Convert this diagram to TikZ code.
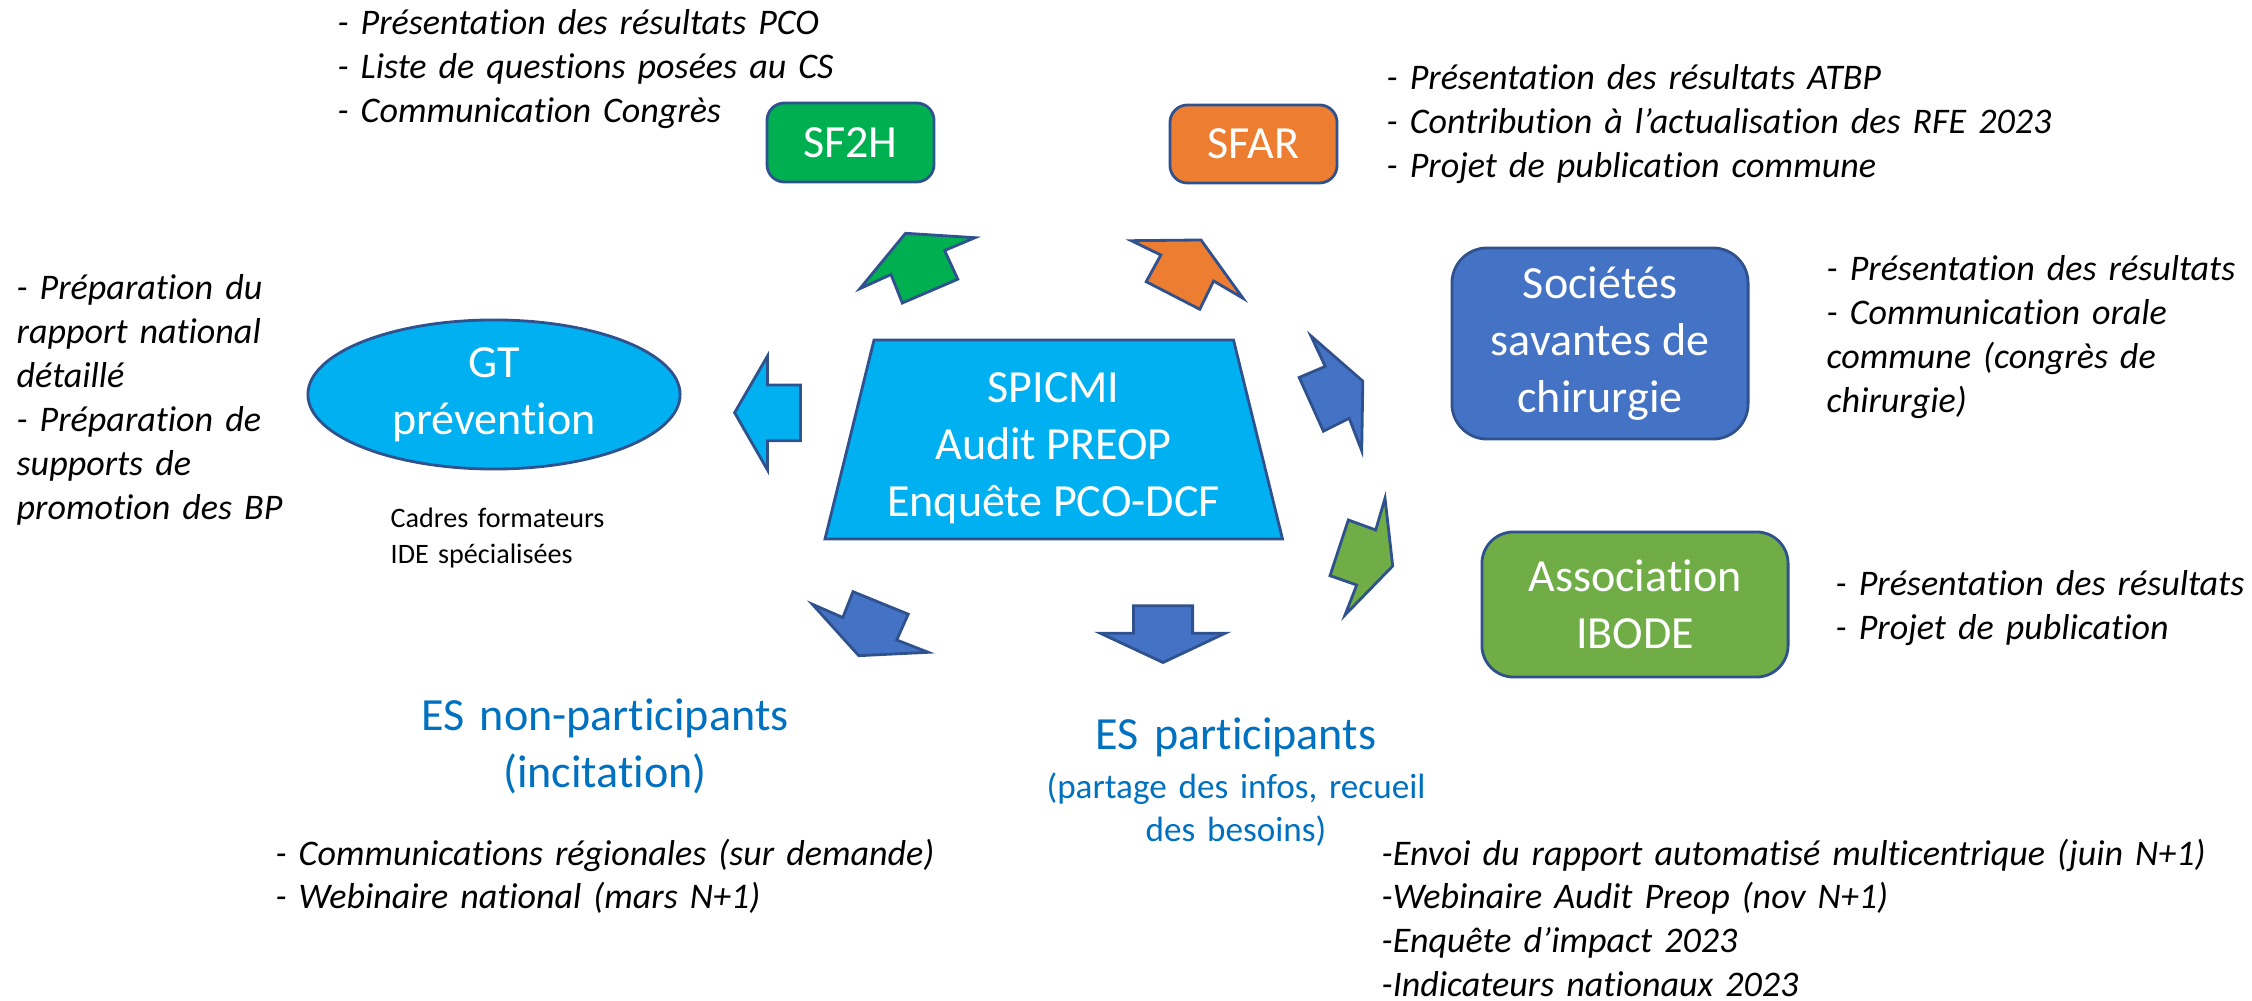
\documentclass[tikz,border=0pt]{standalone}
\usepackage{fontspec}
\setmainfont{Carlito}[Ligatures=NoCommon]
\usepackage{tikz}
\usetikzlibrary{shapes.geometric}
\usetikzlibrary{positioning}

\definecolor{cyanbox}{HTML}{00B0F0}
\definecolor{greenbox}{HTML}{00B050}
\definecolor{orangebox}{HTML}{ED7D31}
\definecolor{bluebox}{HTML}{4472C4}
\definecolor{olivebox}{HTML}{70AD47}
\definecolor{edge}{HTML}{2F528F}
\definecolor{estext}{HTML}{0070C0}

\begin{document}
\begin{tikzpicture}[x=0.01cm, y=-0.01cm,
    outl/.style={draw=edge, line width=0.8pt},
    box/.style={outl, rounded corners=#1, text=white, align=center, inner sep=0pt,
        font=\fontsize{13.1}{16.2}\selectfont},
    box/.default=4pt,
    bullets/.style={anchor=base west, align=left, text width=9.5cm, inner sep=0pt,
        font=\fontsize{10.25}{12.5}\selectfont\itshape},
    estitle/.style={anchor=base, align=center, text width=5cm, inner sep=0pt,
        text=estext, font=\fontsize{13.1}{16.2}\selectfont}
  ]
    \useasboundingbox (0,0) rectangle (2252,1001);

    % Central audit
    \draw [outl, fill=cyanbox] (874,340) -- (1233.5,340) -- (1282.5,539) -- (825,539) -- cycle;
    \node [text=white, align=center, font=\fontsize{13.1}{16.2}\selectfont] (spicmi)
        at (1053.5,448) {SPICMI\\Audit PREOP\\Enquête PCO-DCF};

    % Partners
    \node [box=5pt, fill=greenbox, minimum width=1.67cm, minimum height=0.79cm] (sfh) at (850.5,142.5) {SF2H};
    \node [box=5pt, fill=orangebox, minimum width=1.67cm, minimum height=0.78cm] (sfar) at (1253.5,144) {SFAR};
    \node [box=10pt, fill=bluebox, minimum width=2.96cm, minimum height=1.91cm] (soc) at (1600,343.5)
        {Sociétés\\savantes de\\chirurgie};
    \node [box=9pt, fill=olivebox, minimum width=3.06cm, minimum height=1.45cm] (ibode) at (1635,604.5)
        {Association\\IBODE};
    \node [ellipse, outl, fill=cyanbox, text=white, align=center, inner sep=0pt,
        minimum width=3.72cm, minimum height=1.49cm, font=\fontsize{13.1}{16.2}\selectfont] (gt)
        at (494,394.5) {GT\\prévention};

    % Arrows
    \draw [outl, fill=greenbox] (905.5,233.3) -- (975,237.7) -- (944.6,250.5) -- (957.8,279.2)
        -- (902.3,303) -- (891,274.5) -- (860,288.6) -- cycle;
    \draw [outl, fill=orangebox] (1131.3,240.7) -- (1201,240) -- (1243,298.3) -- (1213.6,281)
        -- (1199.8,309.3) -- (1146.2,281.7) -- (1160.8,255) -- cycle;
    \draw [outl, fill=bluebox] (1311,336) -- (1362.8,381.2) -- (1361.7,450.7) -- (1349.2,418.3)
        -- (1323.4,431.2) -- (1299.2,377.5) -- (1325.2,366.4) -- cycle;
    \draw [outl, fill=olivebox] (1385,498.3) -- (1392.7,566) -- (1345,615) -- (1356.7,585)
        -- (1330,575.7) -- (1348.3,520) -- (1375.7,530) -- cycle;
    \draw [outl, fill=cyanbox] (734.6,412.7) -- (767.5,356) -- (767.5,385) -- (800.4,385)
        -- (800.4,440.7) -- (767.5,440.7) -- (767.5,470) -- cycle;
    \draw [outl, fill=bluebox] (812.4,604.3) -- (842.8,617.5) -- (853,591.7) -- (908.2,614.2)
        -- (896.7,640) -- (928.2,652.3) -- (858.8,655.7) -- cycle;
    \draw [outl, fill=bluebox] (1133.5,605.7) -- (1192.6,605.7) -- (1192.6,633.3) -- (1225,633.3)
        -- (1163,662.5) -- (1100.5,633.3) -- (1133.5,633.3) -- cycle;

    % Establishments
    \node [estitle] (esnon) at (605,731) {ES non-participants\\(incitation)};
    \node [estitle] (espart) at (1236,750) {ES participants};
    \node [estitle, font=\fontsize{10}{12.5}\selectfont] (espartsub) at (1236,798)
        {(partage des infos, recueil\\des besoins)};

    % Actions
    \node [bullets] (sfhlist) at (337,35)
        {- Présentation des résultats PCO\\- Liste de questions posées au CS\\- Communication Congrès};
    \node [bullets] (sfarlist) at (1386,90)
        {- Présentation des résultats ATBP\\- Contribution à l’actualisation des RFE 2023\\- Projet de publication commune};
    \node [bullets] (soclist) at (1826,281)
        {- Présentation des résultats\\- Communication orale\\commune (congrès de\\chirurgie)};
    \node [bullets] (ibodelist) at (1835,596)
        {- Présentation des résultats\\- Projet de publication};
    \node [bullets] (gtlist) at (16,300)
        {- Préparation du\\rapport national\\détaillé\\- Préparation de\\supports de\\promotion des BP};
    \node [bullets, font=\fontsize{8}{10}\selectfont] (gtmembers) at (390,528)
        {Cadres formateurs\\IDE spécialisées};
    \node [bullets] (esnonlist) at (275,865)
        {- Communications régionales (sur demande)\\- Webinaire national (mars N+1)};
    \node [bullets] (espartlist) at (1381,865)
        {-Envoi du rapport automatisé multicentrique (juin N+1)\\-Webinaire Audit Preop (nov N+1)\\-Enquête d’impact 2023\\-Indicateurs nationaux 2023};
\end{tikzpicture}
\end{document}
